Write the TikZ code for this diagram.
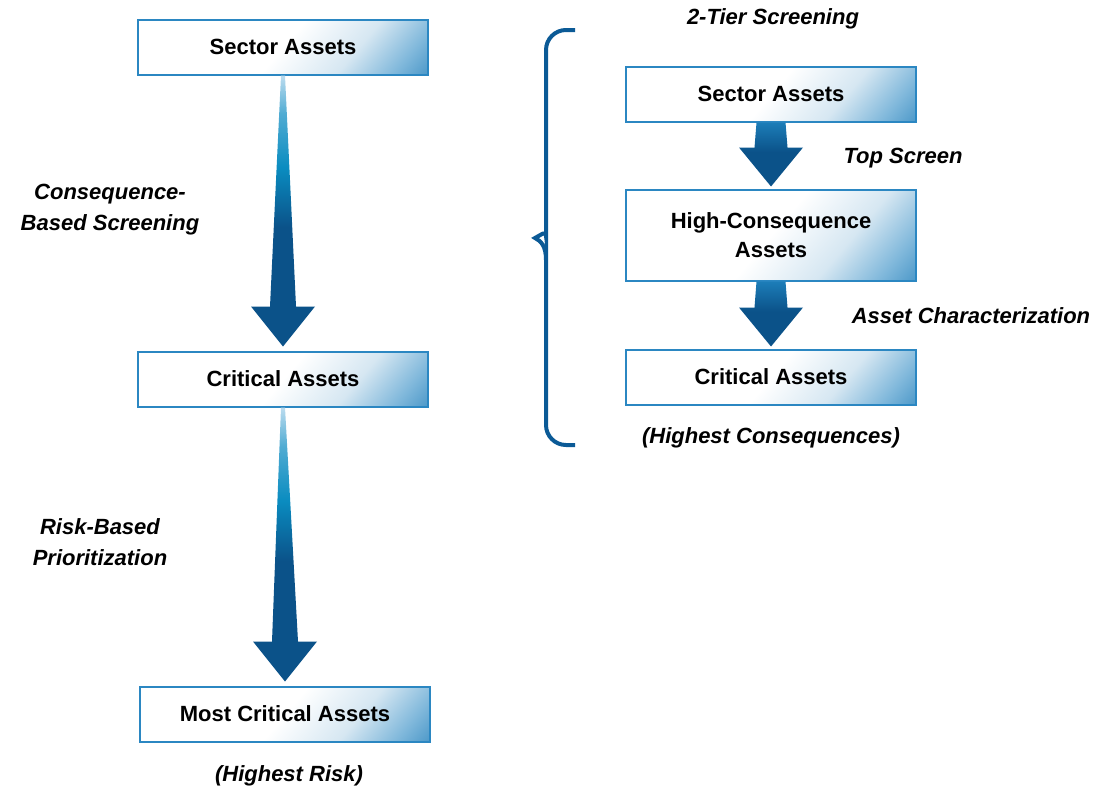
\documentclass[tikz,border=0pt]{standalone}
\usepackage{fontspec}
\setmainfont{Liberation Sans}
\usepackage{tikz}
\usetikzlibrary{calc}
\definecolor{boxedge}{HTML}{2B87C2}
\definecolor{boxpale}{HTML}{D6E7F2}
\definecolor{boxmid}{HTML}{80B8DB}
\definecolor{boxdeep}{HTML}{3A8DC2}
\definecolor{arrowlight}{HTML}{BCDCEF}
\definecolor{arrowteal}{HTML}{0A8CC0}
\definecolor{arrowdark}{HTML}{0B5289}
\definecolor{arrowtop}{HTML}{1C7DB8}
\definecolor{bracedark}{HTML}{0B5A96}
\pgfdeclarehorizontalshading{assetfade}{100bp}{color(0bp)=(white); color(50bp)=(white); color(66bp)=(boxpale); color(78bp)=(boxmid); color(88bp)=(boxdeep); color(100bp)=(boxdeep)}
\pgfdeclareverticalshading{longfade}{100bp}{color(0bp)=(arrowdark); color(47bp)=(arrowdark); color(58bp)=(arrowteal); color(68bp)=(arrowteal!60!arrowlight); color(75bp)=(arrowlight); color(100bp)=(arrowlight)}
\pgfdeclareverticalshading{shortfade}{100bp}{color(0bp)=(arrowdark); color(52bp)=(arrowdark); color(75bp)=(arrowtop); color(100bp)=(arrowtop)}
\tikzstyle{assetbox} = [draw=boxedge, line width=1pt, shade, shading=assetfade, shading angle=-40, minimum width=145pt, minimum height=27.5pt, font=\fontsize{11}{14.5}\selectfont\bfseries, align=center]
\tikzstyle{steplabel} = [font=\fontsize{11}{15.5}\selectfont\bfseries\itshape, align=center]
\tikzstyle{longshaft} = [shade, shading=longfade]
\tikzstyle{shortshaft} = [shade, shading=shortfade]
\tikzstyle{bracket} = [draw=bracedark, line width=2pt, miter limit=20]
\newcommand{\longdrop}[2]{%
  \path[longshaft] ($(#1.south)+(-2,0)$) -- ($(#1.south)+(2,0)$) -- ($(#2.north)+(13,44)$) -- ($(#2.north)+(32,44)$) -- ($(#2.north)+(0,4)$) -- ($(#2.north)+(-32,44)$) -- ($(#2.north)+(-13,44)$) -- cycle;}
\newcommand{\shortdrop}[2]{%
  \path[shortshaft] ($(#1.south)+(-14.5,0)$) -- ($(#1.south)+(14.5,0)$) -- ($(#2.north)+(16.5,41)$) -- ($(#2.north)+(32,41)$) -- ($(#2.north)+(0,2)$) -- ($(#2.north)+(-32,41)$) -- ($(#2.north)+(-16.5,41)$) -- cycle;}

\begin{document}
\begin{tikzpicture}[x=0.5pt, y=0.5pt]
	\useasboundingbox (0,0) rectangle (1096,-788);
	% consequence then risk
	\node[assetbox] (sector) at (283,-47) {Sector Assets};
	\node[assetbox] (critical) at (283,-379) {Critical Assets};
	\node[assetbox] (most) at (285,-714) {Most Critical Assets};
	\node[steplabel] (consq) at (110,-210) {Consequence-\\Based Screening};
	\node[steplabel] (prio) at (100,-542) {Risk-Based\\Prioritization};
	\node[steplabel] (highrisk) at (289,-776) {(Highest Risk)};
	\longdrop{sector}{critical}
	\longdrop{critical}{most}
	% two tiers
	\node[assetbox] (tsector) at (771,-94) {Sector Assets};
	\node[assetbox, minimum height=45.5pt] (thigh) at (771,-235) {High-Consequence\\Assets};
	\node[assetbox] (tcritical) at (771,-377) {Critical Assets};
	\node[steplabel] (tier) at (773,-19) {2-Tier Screening};
	\node[steplabel] (topscr) at (903,-158) {Top Screen};
	\node[steplabel] (charac) at (971,-316) {Asset Characterization};
	\node[steplabel] (hcons) at (771,-438) {(Highest Consequences)};
	\shortdrop{tsector}{thigh}
	\shortdrop{thigh}{tcritical}
	\draw[bracket] (575,-30) [rounded corners=10pt] -- (546,-30) -- (546,-216) [sharp corners] .. controls (546,-230) and (541,-235) .. (535,-238) .. controls (541,-241) and (546,-246) .. (546,-260) [rounded corners=10pt] -- (546,-445) -- (575,-445);
\end{tikzpicture}
\end{document}
